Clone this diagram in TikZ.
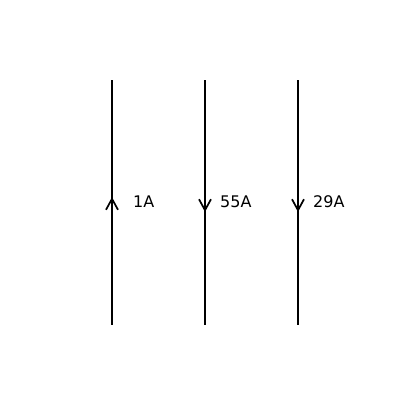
\documentclass[tikz,border=0pt]{standalone}
\usepackage{fontspec}
\setmainfont{DejaVu Sans}
\usetikzlibrary{positioning,arrows.meta}
\tikzset{wire/.style={line width=2.9pt},
  flow/.style={line width=1.6pt,-{Straight Barb[length=11pt,width=12pt,line width=1.7pt]}},
  amp/.style={anchor=west,font=\fontsize{16}{19}\selectfont,inner sep=0pt}}

\begin{document}
\begin{tikzpicture}[x=1pt,y=-1pt]
\useasboundingbox (0,0) rectangle (400,400);
\coordinate (A1) at (112,80);
\coordinate (A2) at (112,325);
\coordinate (B1) at (205,80);
\coordinate (B2) at (205,325);
\coordinate (C1) at (298,80);
\coordinate (C2) at (298,325);
\draw[wire] (A1) -- (A2);
\draw[wire] (B1) -- (B2);
\draw[wire] (C1) -- (C2);
% current arrows
\coordinate (a) at (112,210);
\coordinate (ap) at (112,197);
\coordinate (b) at (205,199);
\coordinate (bp) at (205,212);
\coordinate (c) at (298,199);
\coordinate (cp) at (298,212);
\draw[flow] (a) -- (ap);
\draw[flow] (b) -- (bp);
\draw[flow] (c) -- (cp);
\node[amp] (ia) at (133,202) {1A};
\node[amp] (ib) at (220,202) {55A};
\node[amp] (ic) at (313,202) {29A};
\end{tikzpicture}
\end{document}
